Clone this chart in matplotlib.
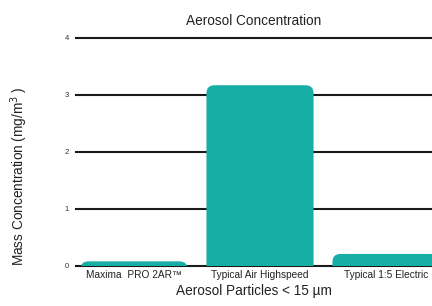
import matplotlib
matplotlib.use("Agg")
import matplotlib.pyplot as plt
from matplotlib.patches import FancyBboxPatch
from matplotlib import font_manager

# data
categories = ["Maxima  PRO 2AR™", "Typical Air Highspeed", "Typical 1:5 Electric"]
values = [0.08, 3.17, 0.21]
yticks = [0, 1, 2, 3, 4]

plt.rcParams['font.family'] = ['Liberation Sans', 'DejaVu Sans']
narrow = 'Liberation Sans Narrow'
names = {f.name for f in font_manager.fontManager.ttflist}
if narrow not in names:
    narrow = 'Liberation Sans'

teal = '#17aea6'

fig = plt.figure(figsize=(4.32, 3.06), dpi=100)
ax = fig.add_axes([0.176, 0.131, 0.824, 0.745])

x = list(range(len(categories)))
bars = ax.bar(x, values, width=0.85, color=teal, zorder=3)
ax.set_xlim(-0.46, 2.365)
ax.set_ylim(0, 4)

# swap plain bars for ones with rounded top corners
fig.canvas.draw()
p0 = ax.transData.transform((0, 0))
p1 = ax.transData.transform((1, 1))
px_x = p1[0] - p0[0]
px_y = p1[1] - p0[1]
r_px = 8
r = r_px / px_x
for b in bars:
    bx, by = b.get_x(), b.get_y()
    w, h = b.get_width(), b.get_height()
    ext = r_px / px_y
    patch = FancyBboxPatch((bx, by - ext), w, h + ext,
                           boxstyle=f"round,pad=0,rounding_size={r}",
                           mutation_aspect=px_x / px_y,
                           facecolor=teal, edgecolor='none', zorder=3)
    ax.add_patch(patch)
    b.remove()

ax.set_yticks(yticks)
ax.set_yticklabels([str(t) for t in yticks], fontsize=5.5, color='#333333')
ax.tick_params(axis='y', length=0, pad=5)
ax.tick_params(axis='x', length=0, pad=3)
ax.set_xticks(x)
ax.set_xticklabels(categories, fontsize=7.3, family=narrow, color='#222222')

ax.yaxis.grid(True, color='#1a1a1a', linewidth=1.5, zorder=1)
for gl in ax.get_ygridlines():
    gl.set_clip_on(False)
for s in ax.spines.values():
    s.set_visible(False)

ax.set_title("Aerosol Concentration", fontsize=9.8, pad=9, color='#222222')
ax.set_xlabel("Aerosol Particles < 15 µm", fontsize=9.8, labelpad=3, color='#222222')
ax.set_ylabel("Mass Concentration (mg/m$^3$ )", fontsize=9.8, color='#222222')
ax.yaxis.set_label_coords(-0.13, 0.395)

fig.savefig("out.png", dpi=100)
